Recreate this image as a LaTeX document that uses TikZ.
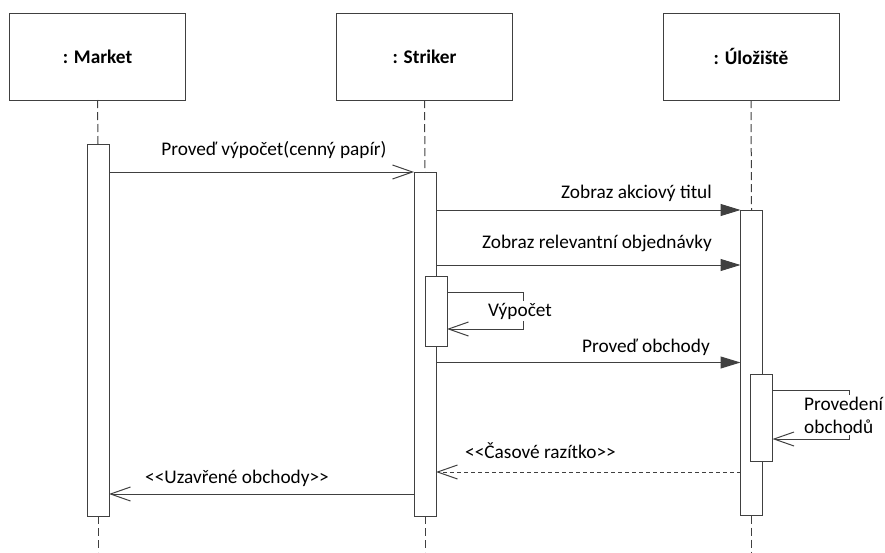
\documentclass[tikz,border=0pt]{standalone}
\usepackage{fontspec}
\setmainfont{Carlito}
\usetikzlibrary{arrows.meta}
\definecolor{linec}{HTML}{404040}
\newcommand{\fs}{\fontsize{19.3}{23}\selectfont}
\begin{document}
\begin{tikzpicture}[x=1pt,y=-1pt,
  obj/.style={draw=linec, line width=1pt, minimum width=176pt, minimum height=87pt, inner sep=0pt, outer sep=0pt, font=\fs\bfseries},
  act/.style={draw=linec, fill=white, line width=1pt, minimum width=22pt, inner sep=0pt, outer sep=0pt},
  life/.style={draw=linec, line width=1pt, dash pattern=on 8pt off 4pt},
  msg/.style={draw=linec, line width=1pt, -{Straight Barb[length=20pt,width=14pt]}},
  call/.style={draw=linec, line width=1pt, -{Triangle[length=20pt,width=12pt]}},
  ret/.style={msg, dash pattern=on 4pt off 3pt},
  lbl/.style={font=\fs, inner sep=1pt, text=black}
]
\useasboundingbox (0,0) rectangle (885,552);

% lifeline heads
\node[obj] (om) at (97.5,56.5) {: Market};
\node[obj] (os) at (424.5,56.5) {: Striker};
\node[obj] (ou) at (751,56.5) {: Úložiště};

% bottom coordinates of lifelines
\coordinate (bm) at (98,552);
\coordinate (bs) at (425,552);
\coordinate (bu) at (751.5,552);

% activation bars
\node[act, minimum height=372pt] (am) at (98,330) {};
\node[act, minimum height=344pt] (as) at (425,344) {};
\node[act, minimum height=305.5pt] (au) at (751.5,362.75) {};

% lifelines
\draw[life] (om.south) -- (am.north);
\draw[life] (os.south) -- (as.north);
\draw[life] (ou.south) -- (au.north);
\draw[life] (am.south) -- (bm);
\draw[life] (as.south) -- (bs);
\draw[life] (au.south) -- (bu);

% nested activations
\node[act, minimum height=70pt] (ns) at (436,311) {};
\node[act, minimum height=87pt] (nu) at (761.5,417.5) {};

% message heights
\coordinate (y1) at (0,172);
\coordinate (y2) at (0,210);
\coordinate (y3) at (0,265);
\coordinate (y4a) at (0,292);
\coordinate (y4b) at (0,329);
\coordinate (y5) at (0,362.5);
\coordinate (y6a) at (0,390);
\coordinate (y6b) at (0,439);
\coordinate (y7) at (0,472);
\coordinate (y8) at (0,494);

% messages
\draw[msg] (am.east |- y1) -- (as.west |- y1);
\node[lbl] (l1) at (274,150) {Proveď výpočet(cenný papír)};

\draw[call] (as.east |- y2) -- (au.west |- y2);
\node[lbl, anchor=east] (l2) at (713,193) {Zobraz akciový titul};

\draw[call] (as.east |- y3) -- (au.west |- y3);
\node[lbl, anchor=east] (l3) at (713,243) {Zobraz relevantní objednávky};

\coordinate (s1) at (523,292);
\coordinate (s2) at (523,329);
\draw[msg] (ns.east |- y4a) -- (s1) -- (s2) -- (ns.east |- y4b);
\node[lbl, fill=white, inner sep=2pt] (l4) at (520,311) {Výpočet};

\draw[call] (as.east |- y5) -- (au.west |- y5);
\node[lbl, anchor=east] (l5) at (711,347) {Proveď obchody};

\coordinate (u1) at (849,390);
\coordinate (u2) at (849,439);
\draw[msg] (nu.east |- y6a) -- (u1) -- (u2) -- (nu.east |- y6b);
\node[lbl, fill=white, anchor=west, align=left, inner sep=2pt] (l6) at (802,415) {Provedení\\obchodů};

\draw[ret] (au.west |- y7) -- (as.east |- y7);
\node[lbl, anchor=west] (l7) at (464,451) {{<}{<}Časové razítko{>}{>}};

\draw[msg] (as.west |- y8) -- (am.east |- y8);
\node[lbl, anchor=west] (l8) at (144,478) {{<}{<}Uzavřené obchody{>}{>}};
\end{tikzpicture}
\end{document}
